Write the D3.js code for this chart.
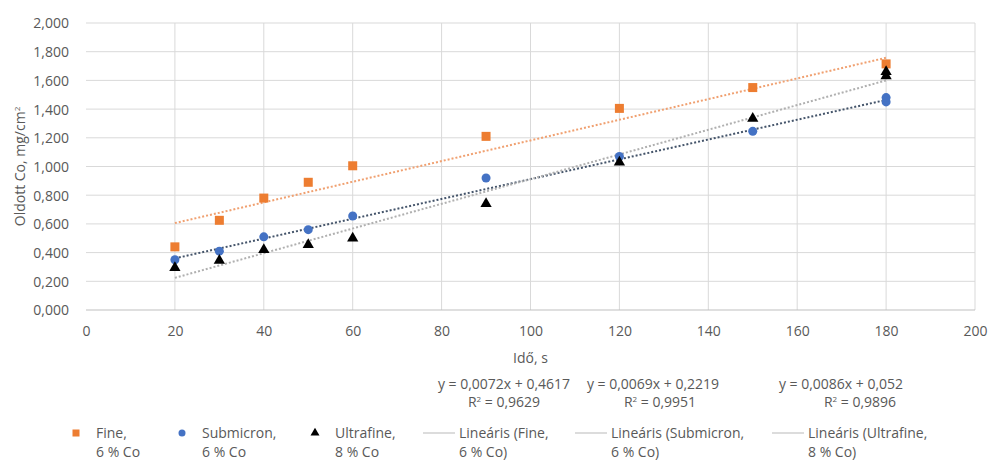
<!DOCTYPE html>
<html><head><meta charset="utf-8">
<script src="https://cdn.jsdelivr.net/npm/d3@7"></script>
<style>
body{margin:0;background:#fff;}
text{font-family:"Open Sans","Liberation Sans",sans-serif;fill:#595959;}
</style></head>
<body>
<svg id="c" width="990" height="462"></svg>
<script>
const xTicks = [0,20,40,60,80,100,120,140,160,180,200];
const yTicks = [0,0.2,0.4,0.6,0.8,1.0,1.2,1.4,1.6,1.8,2.0];
const timeX = [20,30,40,50,60,90,120,150,180];
const fineY = [0.44,0.625,0.78,0.89,1.005,1.21,1.405,1.55,1.715];
const submicronX = [20,30,40,50,60,90,120,150,180,180];
const submicronY = [0.35,0.41,0.51,0.56,0.655,0.92,1.07,1.245,1.45,1.48];
const ultraX = [20,30,40,50,60,90,120,150,180,180];
const ultraY = [0.295,0.345,0.42,0.455,0.50,0.74,1.03,1.335,1.63,1.66];
const seriesNames = ["Fine,|6 % Co","Submicron,|6 % Co","Ultrafine,|8 % Co"];
const trendNames = ["Lineáris (Fine,|6 % Co)","Lineáris (Submicron,|6 % Co)","Lineáris (Ultrafine,|8 % Co)"];
const slopes = [0.0072,0.0069,0.0086];
const intercepts = [0.4617,0.2219,0.052];
const slopeLabels = ["0,0072","0,0069","0,0086"];
const interceptLabels = ["0,4617","0,2219","0,052"];
const r2Labels = ["0,9629","0,9951","0,9896"];
const colors = ["#ED7D31","#4472C4","#000000"];
const trendColors = ["#F0A070","#44546A","#B0B0B0"];

const FS = 14;
const svg = d3.select("#c");
const x = d3.scaleLinear().domain([0,200]).range([86,975]);
const y = d3.scaleLinear().domain([0,2]).range([310,23]);
const fmtY = v => d3.format(".3f")(v).replace(".",",");

// gridlines
svg.append("g").selectAll("line").data(yTicks.slice(1)).join("line")
  .attr("x1",x(0)).attr("x2",x(200)).attr("y1",d=>y(d)).attr("y2",d=>y(d))
  .attr("stroke","#D9D9D9").attr("stroke-width",1);
svg.append("g").selectAll("line").data(xTicks.slice(1)).join("line")
  .attr("x1",d=>x(d)).attr("x2",d=>x(d)).attr("y1",y(0)).attr("y2",y(2))
  .attr("stroke","#D9D9D9").attr("stroke-width",1);
svg.append("line").attr("x1",x(0)).attr("x2",x(200)).attr("y1",y(0)).attr("y2",y(0))
  .attr("stroke","#BFBFBF").attr("stroke-width",1);

// axes labels
const ya = svg.append("g").attr("transform",`translate(${x(0)-14},0)`)
  .call(d3.axisLeft(y).tickValues(yTicks).tickFormat(fmtY).tickSize(0));
ya.select(".domain").remove();
ya.selectAll("text").attr("font-size",FS).attr("fill","#595959").attr("dx",0).attr("dy","0.35em")
  .style("font-family","'Open Sans',sans-serif");
const xa = svg.append("g").attr("transform",`translate(0,${y(0)+13})`)
  .call(d3.axisBottom(x).tickValues(xTicks).tickFormat(d3.format("d")).tickSize(0));
xa.select(".domain").remove();
xa.selectAll("text").attr("font-size",FS).attr("fill","#595959").attr("dy","0.71em")
  .style("font-family","'Open Sans',sans-serif");

// axis titles
svg.append("text").attr("x",x(100)).attr("y",363).attr("text-anchor","middle").attr("font-size",FS).text("Idő, s");
const yt = svg.append("text").attr("transform",`translate(25,${y(1)}) rotate(-90)`).attr("text-anchor","middle").attr("font-size",FS);
yt.append("tspan").text("Oldott Co, mg/cm");
yt.append("tspan").attr("font-size",8).attr("dy",-5).text("2");

// trendlines
slopes.forEach((m,i)=>{
  svg.append("line").attr("x1",x(20)).attr("x2",x(180))
    .attr("y1",y(m*20+intercepts[i])).attr("y2",y(m*180+intercepts[i]))
    .attr("stroke",trendColors[i]).attr("stroke-width",2).attr("stroke-dasharray","2,2");
});

// markers
svg.append("g").selectAll("rect").data(timeX.map((t,i)=>[t,fineY[i]])).join("rect")
  .attr("x",d=>x(d[0])-4.5).attr("y",d=>y(d[1])-4.5).attr("width",9).attr("height",9).attr("fill",colors[0]);
svg.append("g").selectAll("circle").data(submicronX.map((t,i)=>[t,submicronY[i]])).join("circle")
  .attr("cx",d=>x(d[0])).attr("cy",d=>y(d[1])).attr("r",4.5).attr("fill",colors[1]);
const tri = d3.symbol().type(d3.symbolTriangle).size(55);
svg.append("g").selectAll("path").data(ultraX.map((t,i)=>[t,ultraY[i]])).join("path")
  .attr("transform",d=>`translate(${x(d[0])},${y(d[1])})`).attr("d",tri).attr("fill",colors[2]);

// equations
const eqX = [504,653,841];
const r2X = [504,660,860];
slopes.forEach((m,i)=>{
  svg.append("text").attr("x",eqX[i]).attr("y",389).attr("text-anchor","middle").attr("font-size",FS)
    .text(`y = ${slopeLabels[i]}x + ${interceptLabels[i]}`);
  const t = svg.append("text").attr("x",r2X[i]).attr("y",407).attr("text-anchor","middle").attr("font-size",FS);
  t.append("tspan").text("R");
  t.append("tspan").attr("font-size",8).attr("dy",-5).text("2");
  t.append("tspan").attr("dy",5).text(` = ${r2Labels[i]}`);
});

// legend
const legX = [76,182,315];
seriesNames.forEach((n,i)=>{
  const g = svg.append("g").attr("transform",`translate(${legX[i]},433)`);
  if(i===0) g.append("rect").attr("x",-3.5).attr("y",-3.5).attr("width",7).attr("height",7).attr("fill",colors[0]);
  if(i===1) g.append("circle").attr("r",3.5).attr("fill",colors[1]);
  if(i===2) g.append("path").attr("d",d3.symbol().type(d3.symbolTriangle).size(35)).attr("fill",colors[2]);
  const parts = n.split("|");
  g.append("text").attr("x",20).attr("y",5).attr("font-size",FS).text(parts[0]);
  g.append("text").attr("x",20).attr("y",24).attr("font-size",FS).text(parts[1]);
});
const tlX = [423,575,772];
trendNames.forEach((n,i)=>{
  const g = svg.append("g").attr("transform",`translate(${tlX[i]},433)`);
  g.append("line").attr("x1",0).attr("x2",32).attr("y1",0).attr("y2",0).attr("stroke","#D0D0D0").attr("stroke-width",1.5);
  const parts = n.split("|");
  g.append("text").attr("x",36).attr("y",5).attr("font-size",FS).text(parts[0]);
  g.append("text").attr("x",36).attr("y",24).attr("font-size",FS).text(parts[1]);
});
</script>
</body></html>
